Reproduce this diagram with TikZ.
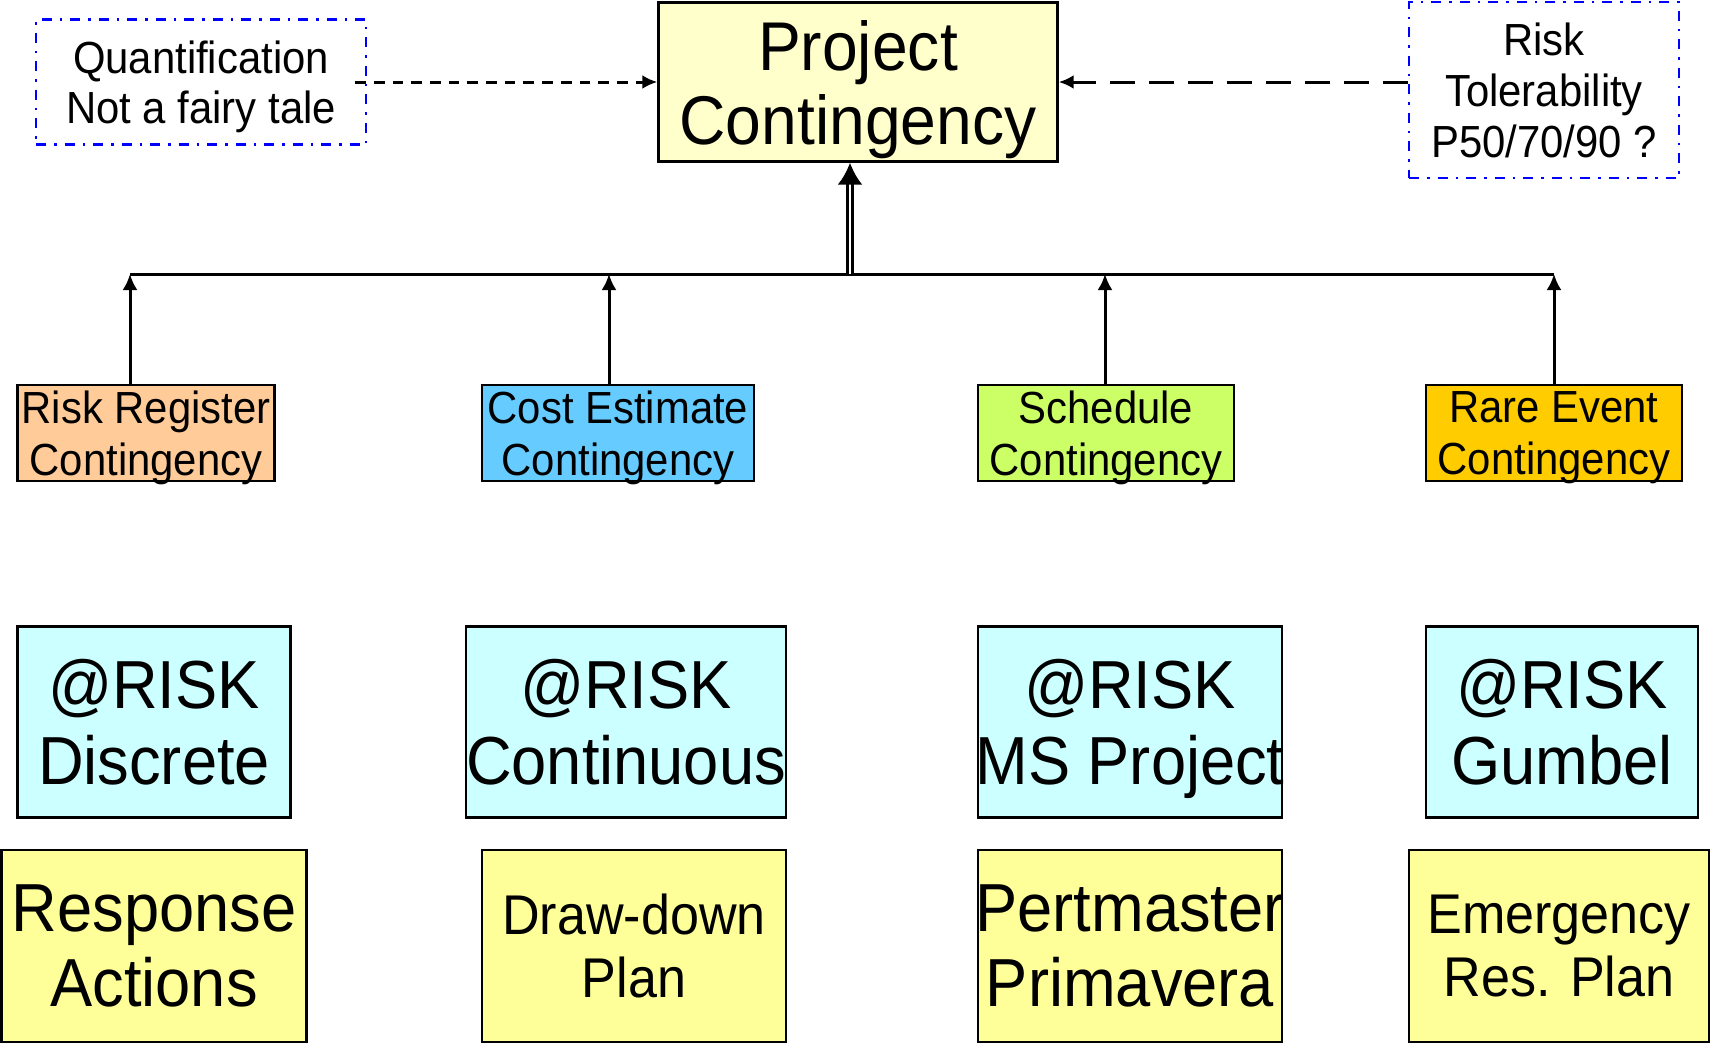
\documentclass[tikz,border=0pt]{standalone}
\usepackage{fontspec}
\setmainfont{Liberation Sans}[FakeStretch=0.93]
\usetikzlibrary{arrows.meta}

\definecolor{projyellow}{HTML}{FFFFCC}
\definecolor{toolyellow}{HTML}{FFFF99}
\definecolor{riskcyan}{HTML}{CCFFFF}
\definecolor{rrpeach}{HTML}{FFCC99}
\definecolor{ceblue}{HTML}{66CCFF}
\definecolor{scgreen}{HTML}{CCFF66}
\definecolor{reorange}{HTML}{FFCC00}

\def\fsz#1#2{\fontsize{#1}{#2}\selectfont}
\def\spill#1{\makebox[0pt]{#1}}

\tikzset{
	box/.style={draw=black, line width=2.4pt, inner sep=0pt, align=center, text depth=0pt},
	notebox/.style={draw=blue, line width=2.2pt, dash pattern=on 10pt off 8pt on 2.5pt off 8pt, inner sep=0pt, align=center, text depth=0pt},
	contbox/.style={box, minimum height=96pt, font=\fsz{45}{52}},
	riskbox/.style={box, fill=riskcyan, minimum height=191pt, font=\fsz{68}{76}},
	toolbox/.style={box, fill=toolyellow, minimum height=192pt},
	uparrow/.style={line width=3pt, -{Latex[length=16pt,width=15pt]}},
	sidearrow/.style={line width=3pt, -{Latex[length=15pt,width=14pt]}},
	bigtip/.style={line width=3pt, -{Latex[length=22pt,width=25pt]}}
}

\begin{document}
\begin{tikzpicture}[x=1pt, y=-1pt]
		%%%%% START %%%%%
		\useasboundingbox (0,0) rectangle (1711,1045);
		
		\node[box, fill=projyellow, minimum width=399pt, minimum height=159pt, font=\fsz{69}{74}] (proj) at (858,82) {Project\\Contingency};
		\node[notebox, minimum width=330pt, minimum height=125pt, font=\fsz{45}{50}] (quant) at (201,82) {Quantification\\Not a fairy tale};
		\node[notebox, minimum width=270pt, minimum height=176pt, font=\fsz{45}{51}] (tol) at (1544,90) {Risk\\Tolerability\\P50/70/90 ?};
		
		\draw[sidearrow, dash pattern=on 10.7pt off 8pt] ([xshift=-12pt]quant.east) -- (proj.west);
		\draw[sidearrow, dash pattern=on 25pt off 14pt] (proj.east -| tol.west) -- (proj.east);
		
		%%%%% CONTINGENCIES %%%%%
		\node[contbox, fill=rrpeach, minimum width=257pt] (rr) at (146,433) {Risk Register\\Contingency};
		\node[contbox, fill=ceblue, minimum width=272pt] (ce) at (618,433) {Cost Estimate\\Contingency};
		\node[contbox, fill=scgreen, minimum width=256pt] (sc) at (1106,433) {Schedule\\Contingency};
		\node[contbox, fill=reorange, minimum width=256pt] (re) at (1554,433) {Rare Event\\Contingency};
		
		\coordinate (b1) at (130,274);
		\coordinate (b2) at (609,274);
		\coordinate (b3) at (1105,274);
		\coordinate (b4) at (1554,274);
		\coordinate (hub) at (850,274);
		\coordinate (tipbase) at (850,182);
		
		\draw[line width=3pt] (b1) -- (b4);
		\foreach \b/\n in {b1/rr, b2/ce, b3/sc, b4/re}
			\draw[uparrow] (\b |- \n.north) -- (\b);
		
		\draw[line width=2.8pt, double, double distance=2pt] (hub) -- (tipbase);
		\draw[bigtip] (tipbase) -- (hub |- proj.south);
		
		%%%%% @RISK %%%%%
		\node[riskbox, minimum width=273pt] (m1) at (154,722) {@RISK\\Discrete};
		\node[riskbox, minimum width=320pt] (m2) at (626,722) {@RISK\\\spill{Continuous}};
		\node[riskbox, minimum width=304pt] (m3) at (1130,722) {@RISK\\\spill{MS Project}};
		\node[riskbox, minimum width=272pt] (m4) at (1562,722) {@RISK\\Gumbel};
		
		%%%%% TOOLS %%%%%
		\node[toolbox, minimum width=305pt, font=\fsz{68}{75}] (a1) at (154,946) {Response\\Actions};
		\node[toolbox, minimum width=304pt, font=\fsz{56}{63}] (a2) at (634,946) {Draw-down\\Plan};
		\node[toolbox, minimum width=304pt, font=\fsz{68}{75}] (a3) at (1130,946) {\spill{Pertmaster}\\Primavera};
		\node[toolbox, minimum width=300pt, font=\fsz{56}{63}] (a4) at (1559,946) {Emergency\\Res. Plan};
		
		%%%%% END %%%%%
	\end{tikzpicture}
\end{document}
